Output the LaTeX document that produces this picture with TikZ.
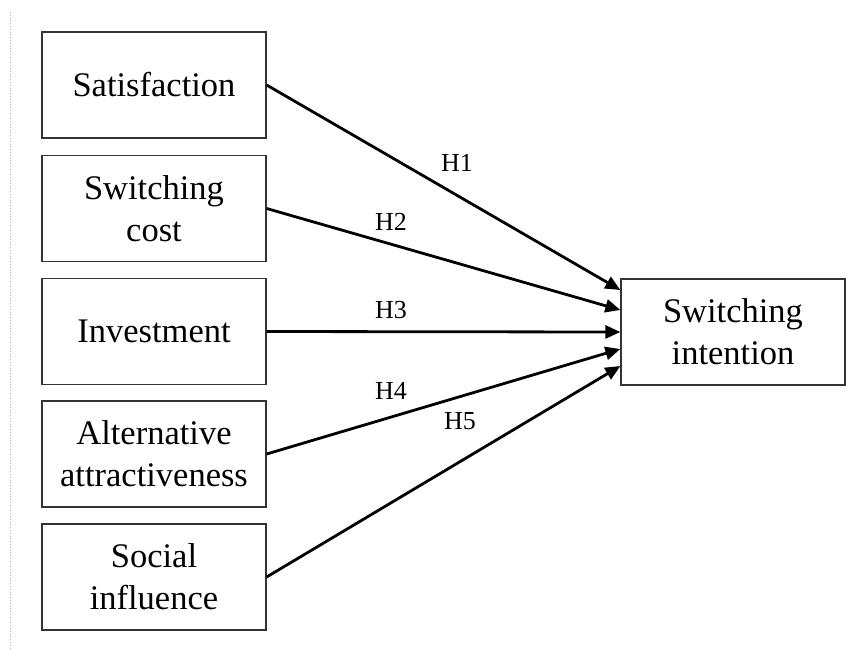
\documentclass[tikz,border=0pt]{standalone}
\usepackage{fontspec}
\setmainfont{Liberation Serif}
\usetikzlibrary{arrows.meta}
\begin{document}
\begin{tikzpicture}[x=1pt,y=-1pt,
  box/.style={draw=black!80, line width=1.3pt, minimum width=224pt, minimum height=106pt,
    align=center, inner sep=0pt, font=\fontsize{34.5}{42}\selectfont},
  link/.style={line width=2.8pt, -{Triangle[length=15pt,width=13pt]}},
  hlab/.style={font=\fontsize{26}{30}\selectfont, inner sep=0pt}]
\useasboundingbox (0,0) rectangle (855,649);
\fill[white] (0,0) rectangle (855,649);
\draw[black!30, line width=0.8pt, dotted] (10,12) -- (10,649);
\node[box] (b1) at (154,85) {Satisfaction};
\node[box] (b2) at (154,208.5) {Switching\\cost};
\node[box] (b3) at (154,331.5) {Investment};
\node[box] (b4) at (154,454) {Alternative\\attractiveness};
\node[box] (b5) at (154,577) {Social\\influence};
\node[box] (t) at (733,332) {Switching\\intention};
\coordinate (e1) at ([yshift=42pt]t.west);
\coordinate (e2) at ([yshift=22pt]t.west);
\coordinate (e3) at ([yshift=0pt]t.west);
\coordinate (e4) at ([yshift=-17pt]t.west);
\coordinate (e5) at ([yshift=-34pt]t.west);
\draw[link] (b1.east) -- (e1);
\draw[link] (b2.east) -- (e2);
\draw[link] (b3.east) -- (e3);
\draw[link] (b4.east) -- (e4);
\draw[link] (b5.east) -- (e5);
\node[hlab] (h1) at (457,163) {H1};
\node[hlab] (h2) at (391,222) {H2};
\node[hlab] (h3) at (391,310) {H3};
\node[hlab] (h4) at (391,391) {H4};
\node[hlab] (h5) at (460,421) {H5};
\end{tikzpicture}
\end{document}
